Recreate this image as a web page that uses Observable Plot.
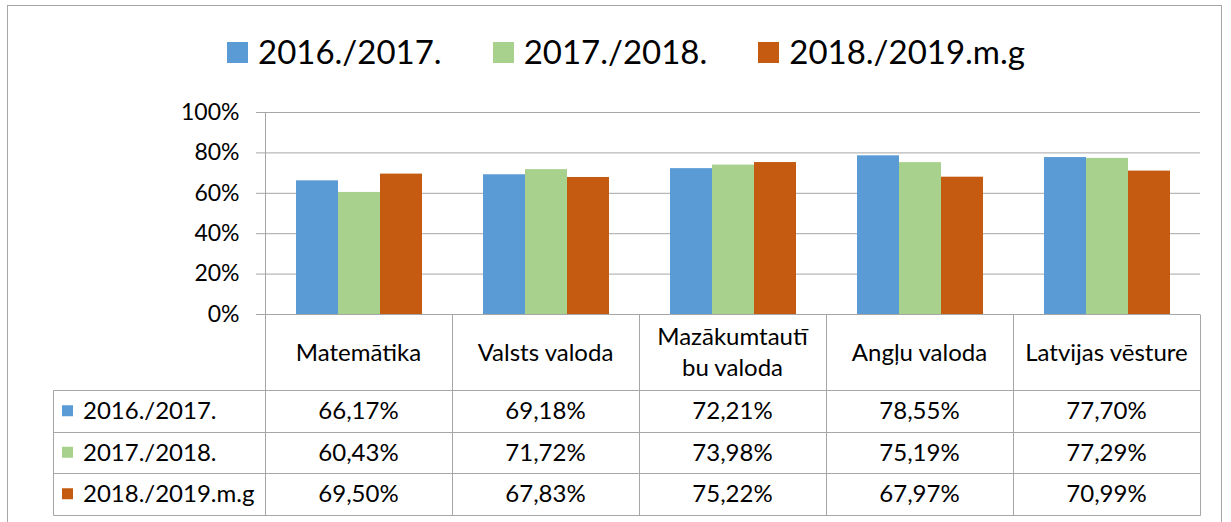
<!DOCTYPE html>
<html>
<head>
<meta charset="utf-8">
<script src="https://cdn.jsdelivr.net/npm/d3@7"></script>
<script src="https://cdn.jsdelivr.net/npm/@observablehq/plot@0.6"></script>
<style>
  html, body { margin: 0; padding: 0; background: #fff; overflow: hidden; }
  #wrap { position: relative; width: 1231px; height: 522px; overflow: hidden; font-family: Lato, sans-serif; }
  #frame { position: absolute; left: 7px; top: 5px; width: 1215px; height: 540px; border: 1px solid #a6a6a6; box-sizing: border-box; }
  #legend { position: absolute; left: 227px; top: 31px; display: flex; gap: 51px; font-size: 33px; line-height: 40px; color: #000; }
  .item { display: flex; align-items: flex-start; }
  .sw { width: 21px; height: 21px; margin-top: 11px; margin-right: 10px; }
  #chart { position: absolute; left: 0; top: 0; }
</style>
</head>
<body>
<div id="wrap">
  <div id="frame"></div>
  <div id="chart"></div>
  <div id="legend"></div>
</div>
<script>
// ---- data ----
const categories = ["Matemātika", "Valsts valoda", "Mazākumtautību valoda", "Angļu valoda", "Latvijas vēsture"];
const categoryLabels = ["Matemātika", "Valsts valoda", "Mazākumtautī\nbu valoda", "Angļu valoda", "Latvijas vēsture"];
const series = ["2016./2017.", "2017./2018.", "2018./2019.m.g"];
const values2016 = [66.17, 69.18, 72.21, 78.55, 77.70];
const values2017 = [60.43, 71.72, 73.98, 75.19, 77.29];
const values2018 = [69.50, 67.83, 75.22, 67.97, 70.99];
const colors = ["#5B9BD5", "#A9D18E", "#C55A11"];
const yTicks = [0, 20, 40, 60, 80, 100];

const seriesValues = [values2016, values2017, values2018];
const data = [];
series.forEach((s, si) => categories.forEach((c, ci) => data.push({cat: c, series: s, value: seriesValues[si][ci]})));

const fmt = v => v.toFixed(2).replace(".", ",") + "%";
const gridColor = "#a6a6a6";

const chart = Plot.plot({
  width: 1231,
  height: 522,
  marginTop: 112,
  marginBottom: 208,
  marginLeft: 263,
  marginRight: 30,
  style: {fontFamily: "Lato, sans-serif", fontSize: "23px", color: "#000", background: "transparent"},
  fx: {domain: categories, paddingInner: 0, paddingOuter: 0, axis: null, label: null},
  x: {domain: series, paddingInner: 0, paddingOuter: 0.72, axis: null, label: null},
  y: {domain: [0, 100], axis: null, label: null},
  color: {domain: series, range: colors},
  marks: [
    Plot.gridY(yTicks, {stroke: gridColor, strokeOpacity: 1}),
    Plot.barY(data, {fx: "cat", x: "series", y: "value", fill: "series"}),
    Plot.axisY(yTicks, {tickFormat: d => d + "%", tickSize: 9, tickPadding: 17, stroke: gridColor, fill: "#000", fontSize: 23, label: null})
  ]
});
document.getElementById("chart").appendChild(chart);

// ---- data table under the chart, positioned by the chart's own scales ----
const fx = chart.scale("fx");
const y = chart.scale("y");
const bw = fx.bandwidth;
const colLeft = c => fx.apply(c);
const xStart = colLeft(categories[0]);
const xEnd = colLeft(categories[categories.length - 1]) + bw;
const y0 = y.apply(0), y100 = y.apply(100);
const headerH = 76, rowH = 41.5, tableLeft = 53;
const rowTops = series.map((s, i) => y0 + headerH + i * rowH);
const tableBottom = y0 + headerH + series.length * rowH;
const px = v => Math.round(v) + 0.5;

const svg = d3.select(chart);
const g = svg.append("g").attr("stroke", gridColor).attr("stroke-width", 1).attr("fill", "none");
// axis line
g.append("line").attr("x1", px(xStart)).attr("x2", px(xStart)).attr("y1", px(y100)).attr("y2", px(tableBottom));
// vertical column lines
categories.forEach((c, i) => {
  if (i > 0) g.append("line").attr("x1", px(colLeft(c))).attr("x2", px(colLeft(c))).attr("y1", px(y0)).attr("y2", px(tableBottom));
});
g.append("line").attr("x1", px(xEnd)).attr("x2", px(xEnd)).attr("y1", px(y0)).attr("y2", px(tableBottom));
g.append("line").attr("x1", px(tableLeft)).attr("x2", px(tableLeft)).attr("y1", px(rowTops[0])).attr("y2", px(tableBottom));
// horizontal row lines
[...rowTops, tableBottom].forEach(yy => g.append("line").attr("x1", px(tableLeft)).attr("x2", px(xEnd)).attr("y1", px(yy)).attr("y2", px(yy)));

const t = svg.append("g").attr("font-family", "Lato, sans-serif").attr("font-size", 24).attr("fill", "#000");
// header labels
categories.forEach((c, i) => {
  const lines = categoryLabels[i].split("\n");
  const cx = colLeft(c) + bw / 2;
  const cy = y0 + headerH / 2;
  const lh = 31;
  lines.forEach((ln, j) => {
    t.append("text").attr("x", cx).attr("y", cy + (j - (lines.length - 1) / 2) * lh)
      .attr("dy", "0.36em").attr("text-anchor", "middle").text(ln);
  });
});
// rows
series.forEach((s, si) => {
  const cy = rowTops[si] + rowH / 2;
  t.append("rect").attr("x", 62).attr("y", cy - 5.5).attr("width", 11).attr("height", 11).attr("fill", colors[si]);
  t.append("text").attr("x", 83).attr("y", cy).attr("dy", "0.36em").attr("text-anchor", "start").text(s);
  categories.forEach((c, ci) => {
    t.append("text").attr("x", colLeft(c) + bw / 2).attr("y", cy).attr("dy", "0.36em")
      .attr("text-anchor", "middle").text(fmt(seriesValues[si][ci]));
  });
});

// ---- legend ----
const legend = d3.select("#legend");
series.forEach((s, i) => {
  const it = legend.append("div").attr("class", "item");
  it.append("div").attr("class", "sw").style("background", colors[i]);
  it.append("span").text(s);
});
</script>
</body>
</html>
